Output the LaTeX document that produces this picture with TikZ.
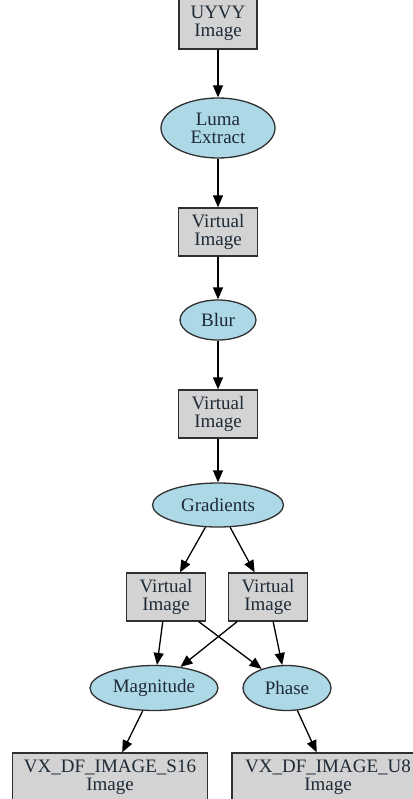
\documentclass[tikz,border=0pt]{standalone}
\usepackage{fontspec}
\setmainfont{Liberation Serif}
\usetikzlibrary{shapes.geometric,arrows.meta}
\definecolor{boxfill}{HTML}{D3D3D3}
\definecolor{ellfill}{HTML}{ADD8E6}
\definecolor{edgecol}{HTML}{303030}
\definecolor{txtcol}{HTML}{1E2A36}
\begin{document}
\begin{tikzpicture}[x=1pt,y=-1pt,
  base/.style={draw=edgecol,line width=1.3pt,text=txtcol,align=center,inner sep=0pt,
    font=\fontsize{19}{18}\selectfont},
  imgbox/.style={base,rectangle,fill=boxfill,minimum height=48pt},
  procell/.style={base,ellipse,fill=ellfill},
  conn/.style={draw=black,line width=1.3pt,-{Triangle[length=12pt,width=10pt]}}]
\useasboundingbox (0,0) rectangle (412,799);
\node[imgbox,minimum width=78pt,minimum height=52pt] (uyvy) at (218,23) {UYVY\\Image};
\node[procell,minimum width=114pt,minimum height=60pt] (luma) at (218,128) {Luma\\Extract};
\node[imgbox,minimum width=79pt] (vi1) at (218,232) {Virtual\\Image};
\node[procell,minimum width=76pt,minimum height=40pt] (blur) at (218,320) {Blur};
\node[imgbox,minimum width=79pt] (vi2) at (218,414) {Virtual\\Image};
\node[procell,minimum width=131pt,minimum height=44pt] (grad) at (218,505) {Gradients};
\node[imgbox,minimum width=79pt] (vil) at (166,597) {Virtual\\Image};
\node[imgbox,minimum width=79pt] (vir) at (268,597) {Virtual\\Image};
\node[procell,minimum width=128pt,minimum height=45pt] (mag) at (154,688) {Magnitude};
\node[procell,minimum width=88pt,minimum height=45pt] (phase) at (287,688) {Phase};
\node[imgbox,minimum width=195pt] (s16) at (110,777) {VX\_DF\_IMAGE\_S16\\Image};
\node[imgbox,minimum width=192pt] (u8) at (328,777) {VX\_DF\_IMAGE\_U8\\Image};
\draw[conn] (uyvy) -- (luma);
\draw[conn] (luma) -- (vi1);
\draw[conn] (vi1) -- (blur);
\draw[conn] (blur) -- (vi2);
\draw[conn] (vi2) -- (grad);
\draw[conn] (grad) -- (vil);
\draw[conn] (grad) -- (vir);
\draw[conn] (vil) -- (mag);
\draw[conn] (vil) -- (phase);
\draw[conn] (vir) -- (mag);
\draw[conn] (vir) -- (phase);
\draw[conn] (mag) -- (s16);
\draw[conn] (phase) -- (u8);
\end{tikzpicture}
\end{document}
